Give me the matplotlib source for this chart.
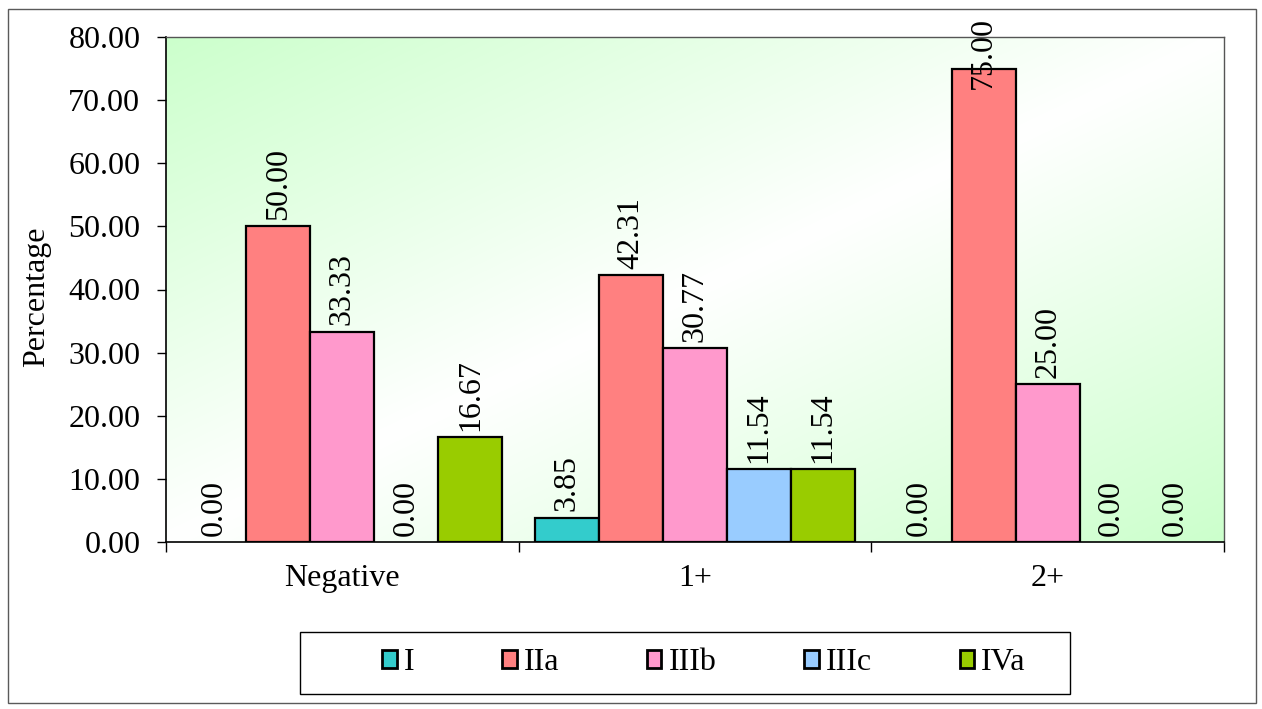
import numpy as np
import matplotlib
matplotlib.use("Agg")
import matplotlib.pyplot as plt
from matplotlib.patches import Rectangle, Patch
from matplotlib.ticker import FormatStrFormatter, FixedLocator

plt.rcParams['font.family'] = ['Liberation Serif', 'DejaVu Serif']

categories = ['Negative', '1+', '2+']
series_names = ['I', 'IIa', 'IIIb', 'IIIc', 'IVa']
vals_I = [0.00, 3.85, 0.00]
vals_IIa = [50.00, 42.31, 75.00]
vals_IIIb = [33.33, 30.77, 25.00]
vals_IIIc = [0.00, 11.54, 0.00]
vals_IVa = [16.67, 11.54, 0.00]
series_values = [vals_I, vals_IIa, vals_IIIb, vals_IIIc, vals_IVa]
colors = ['#33CCCC', '#FF8080', '#FF99CC', '#99CCFF', '#99CC00']
y_ticks = [0, 10, 20, 30, 40, 50, 60, 70, 80]

FS = 23
W, H = 1262, 709
fig = plt.figure(figsize=(W / 100, H / 100), dpi=100)

# outer chart border
fig.patches.append(Rectangle((8 / W, 1 - 703 / H), (1256 - 8) / W, (703 - 9) / H,
                             transform=fig.transFigure, fill=False,
                             edgecolor='#5a5a5a', linewidth=1.0))

ax = fig.add_axes([166 / W, 1 - 542 / H, (1224 - 166) / W, (542 - 37) / H])
ax.set_facecolor('none')

# diagonal green-white-green background
ny, nx = 200, 400
u = np.linspace(0, 1, nx)[None, :]
v = np.linspace(0, 1, ny)[:, None]
f = np.abs(u + v - 1.0)
green = np.array([0.80, 1.0, 0.80])
img = (1 - f)[..., None] * np.ones(3) + f[..., None] * green
ax.imshow(img, extent=[0, 1, 0, 1], transform=ax.transAxes, aspect='auto',
          origin='upper', zorder=0, interpolation='bilinear')

x = np.arange(len(categories))
bw = 0.1815
labels = []
for i, (name, vals, c) in enumerate(zip(series_names, series_values, colors)):
    pos = x + (i - 2) * bw
    lws = [1.6 if v_ != 0 else 0 for v_ in vals]
    ax.bar(pos, vals, width=bw, color=c, edgecolor='black', linewidth=lws,
           zorder=2, label=name)
    for px, val in zip(pos, vals):
        t = ax.annotate(f'{val:.2f}', (px, val), xytext=(0, 4.5),
                        textcoords='offset points', rotation=90,
                        ha='center', va='bottom', fontsize=FS, zorder=3,
                        annotation_clip=False)
        labels.append(t)

ax.set_xlim(-0.5, 2.5)
ax.set_ylim(0, 80)
ax.set_yticks(y_ticks)
ax.yaxis.set_major_formatter(FormatStrFormatter('%.2f'))
ax.set_xticks(x)
ax.set_xticklabels(categories)
ax.xaxis.set_minor_locator(FixedLocator([-0.5, 0.5, 1.5, 2.5]))
ax.tick_params(axis='y', direction='out', length=6.5, width=1, pad=12,
               labelsize=FS, colors='black')
ax.tick_params(axis='x', which='major', length=0, pad=16, labelsize=FS)
ax.tick_params(axis='x', which='minor', direction='out', length=7, width=1)

for s in ['left', 'bottom']:
    ax.spines[s].set_color('black')
    ax.spines[s].set_linewidth(1.2)
for s in ['top', 'right']:
    ax.spines[s].set_color('#555555')
    ax.spines[s].set_linewidth(1.0)
ax.spines['bottom'].set_zorder(4)

fig.text(37 / W, 1 - 297 / H, 'Percentage', rotation=90, ha='center',
         va='center', fontsize=FS)

# legend frame and entries
fig.patches.append(Rectangle((300 / W, 1 - 694 / H), (1070 - 300) / W, (694 - 632) / H,
                             transform=fig.transFigure, fill=False,
                             edgecolor='black', linewidth=1.0))
handles = [Patch(facecolor=c, edgecolor='black', linewidth=2.0) for c in colors]
fig.legend(handles, series_names, loc='center',
           bbox_to_anchor=(704 / W, 1 - 663 / H), ncol=5, frameon=False,
           fontsize=FS, handlelength=0.45, handleheight=0.5,
           handletextpad=0.22, columnspacing=2.75, borderpad=0)

# keep value labels inside the chart area
fig.canvas.draw()
r = fig.canvas.get_renderer()
top_limit = fig.bbox.height - 17
for t in labels:
    bb = t.get_window_extent(r)
    if bb.y1 > top_limit:
        dx, dy = t.xyann
        t.xyann = (dx, dy - (bb.y1 - top_limit) * 72 / fig.dpi)

fig.savefig('out.png', dpi=100)
